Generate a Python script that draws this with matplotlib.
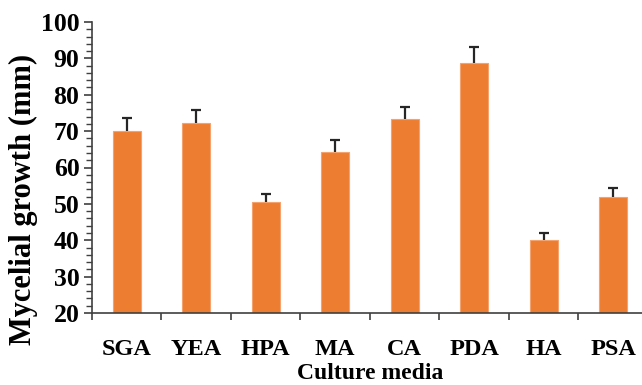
import matplotlib
matplotlib.use('Agg')

import matplotlib.pyplot as plt
import numpy as np
from matplotlib.ticker import MultipleLocator

# Mycelial growth on each culture medium (mean and SD, mm)
media = ['SGA', 'YEA', 'HPA', 'MA', 'CA', 'PDA', 'HA', 'PSA']
growth = [70.0, 72.3, 50.4, 64.3, 73.2, 88.8, 40.1, 52.0]
sd = [3.5, 3.6, 2.4, 3.2, 3.5, 4.3, 1.9, 2.3]

plt.rcParams['font.family'] = ['Liberation Serif', 'DejaVu Serif']

fig = plt.figure(figsize=(6.42, 3.85), dpi=100)
ax = fig.add_axes([92 / 642, 72 / 385, 556 / 642, 291 / 385])

x = np.arange(len(media))
ax.bar(x, growth, width=0.4, color='#ED7D31', edgecolor='#F4A36E', linewidth=0.8,
       zorder=2)
# upper error bars only
_, caps, _ = ax.errorbar(x, growth, yerr=[np.zeros(len(sd)), sd], fmt='none',
                         ecolor='#262626', elinewidth=1.6, capsize=3.8,
                         capthick=1.6, zorder=3)
caps[0].set_visible(False)

ax.set_xlim(-0.5, len(media) - 0.5)
ax.set_ylim(20, 100)
ax.yaxis.set_major_locator(MultipleLocator(10))
ax.yaxis.set_minor_locator(MultipleLocator(2))

# category separators as x ticks, labels centred under the bars
ax.set_xticks(np.arange(len(media) + 1) - 0.5)
ax.set_xticklabels([])
ax.set_xticks(x, minor=True)
ax.set_xticklabels(media, minor=True, fontsize=17.5, fontweight='bold')
ax.tick_params(axis='x', which='major', direction='out', length=5, width=1.2,
               color='#404040')
ax.tick_params(axis='x', which='minor', length=0, pad=19)

ax.tick_params(axis='y', which='major', direction='out', length=6, width=1.2,
               color='#404040', labelsize=18.5, pad=3)
ax.tick_params(axis='y', which='minor', direction='out', length=4.5, width=1.0,
               color='#404040')
for lbl in ax.get_yticklabels():
    lbl.set_fontweight('bold')

for side in ('top', 'right'):
    ax.spines[side].set_visible(False)
for side in ('left', 'bottom'):
    ax.spines[side].set_color('#404040')
    ax.spines[side].set_linewidth(1.2)

ax.set_ylabel('Mycelial growth (mm)', fontsize=22, fontweight='bold')
ax.yaxis.set_label_coords(-0.097, 0.39)
ax.set_xlabel('Culture media', fontsize=17, fontweight='bold', labelpad=2)

fig.savefig('out.png', dpi=100)
